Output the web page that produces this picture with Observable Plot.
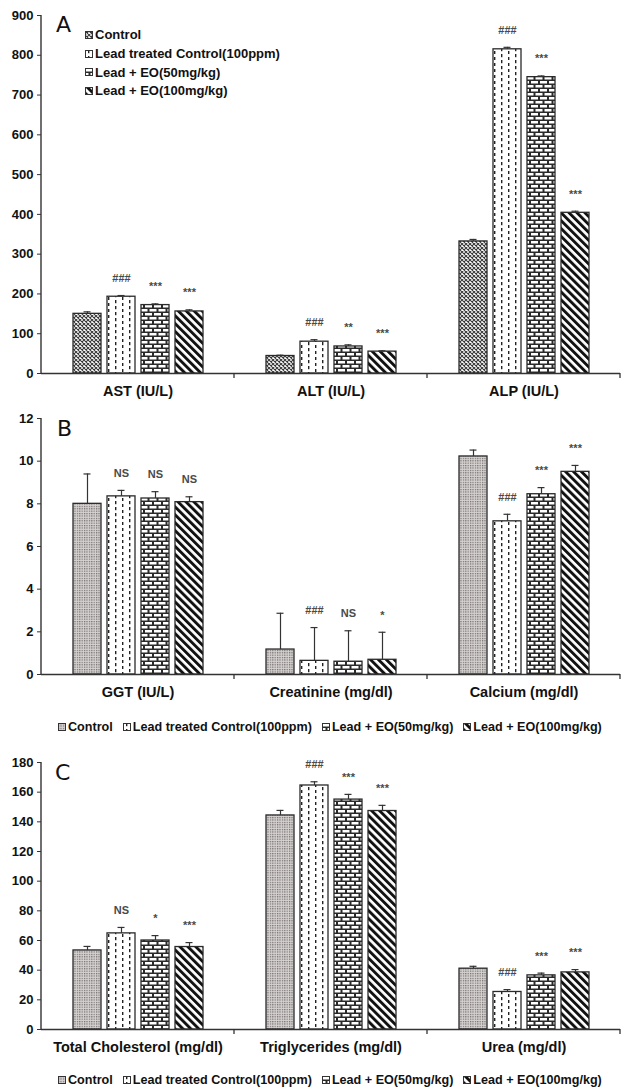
<!DOCTYPE html>
<html><head><meta charset="utf-8">
<script src="https://cdn.jsdelivr.net/npm/d3@7"></script>
<script src="https://cdn.jsdelivr.net/npm/@observablehq/plot@0.6"></script>
<style>
body{margin:0;background:#fff;width:621px;height:1088px;position:relative;overflow:hidden;font-family:"Liberation Sans",Arial,sans-serif;color:#111;}
.panel{position:absolute;left:0;}
.legv{position:absolute;font-weight:bold;font-size:13px;}
.legv .item{display:flex;align-items:center;height:18.7px;white-space:nowrap;}
.legh{position:absolute;display:flex;gap:10px;font-weight:bold;font-size:12.6px;white-space:nowrap;}
.legh .item{display:flex;align-items:center;}
.sw{margin-right:2px;}
</style></head>
<body>
<svg width="0" height="0" style="position:absolute"><defs>
  <pattern id="pCross" width="4" height="4" patternUnits="userSpaceOnUse">
    <rect width="4" height="4" fill="#fff"/>
    <path d="M0,0L4,4M4,0L0,4" stroke="#3a3a3a" stroke-width="1.1"/>
  </pattern>
  <pattern id="pDots" width="2.4" height="2.4" patternUnits="userSpaceOnUse">
    <rect width="2.4" height="2.4" fill="#d6d2d2"/>
    <rect width="1.2" height="1.2" fill="#6f6868"/>
  </pattern>
  <pattern id="pDash" width="14" height="6" patternUnits="userSpaceOnUse">
    <rect width="14" height="6" fill="#fff"/>
    <rect x="3" y="0" width="1.4" height="3.2" fill="#222"/>
    <rect x="10" y="3" width="1.4" height="3.2" fill="#222"/>
  </pattern>
  <pattern id="pBrick" width="9" height="8" patternUnits="userSpaceOnUse">
    <rect width="9" height="8" fill="#2a2a2a"/>
    <rect x="1" y="1" width="7" height="2.5" fill="#fff"/>
    <rect x="-3.5" y="5" width="7" height="2.5" fill="#fff"/>
    <rect x="5.5" y="5" width="7" height="2.5" fill="#fff"/>
  </pattern>
  <pattern id="pDiag" width="5.6" height="5.6" patternUnits="userSpaceOnUse" patternTransform="rotate(-45)">
    <rect width="5.6" height="5.6" fill="#fff"/>
    <rect width="2.9" height="5.6" fill="#111"/>
  </pattern>
</defs></svg>

<div id="A" class="panel" style="top:0"></div>
<div id="B" class="panel" style="top:405px"></div>
<div id="C" class="panel" style="top:745px"></div>
<div id="legA" class="legv" style="left:85px;top:25.5px"></div>
<div id="legB" class="legh" style="left:58px;top:720px"></div>
<div id="legC" class="legh" style="left:58px;top:1073px"></div>
<svg id="letters" width="621" height="1088" style="position:absolute;left:0;top:0;pointer-events:none"></svg>

<script>
// ---- data ----
const series = ["Control", "Lead treated Control(100ppm)", "Lead + EO(50mg/kg)", "Lead + EO(100mg/kg)"];

const catsA = ["AST (IU/L)", "ALT (IU/L)", "ALP (IU/L)"];
const valuesA = [[150, 193, 172, 156], [44, 80, 68, 55], [332, 815, 745, 404]];
const errorsA = [[5, 3, 3, 4], [2, 5, 4, 2], [5, 5, 3, 4]];
const signifA = [["", "###", "***", "***"], ["", "###", "**", "***"], ["", "###", "***", "***"]];
const ticksA = [0, 100, 200, 300, 400, 500, 600, 700, 800, 900];

const catsB = ["GGT (IU/L)", "Creatinine (mg/dl)", "Calcium (mg/dl)"];
const valuesB = [[8.0, 8.35, 8.25, 8.08], [1.17, 0.64, 0.6, 0.69], [10.22, 7.18, 8.45, 9.5]];
const errorsB = [[1.4, 0.28, 0.32, 0.25], [1.7, 1.56, 1.45, 1.29], [0.3, 0.33, 0.31, 0.3]];
const signifB = [["", "NS", "NS", "NS"], ["", "###", "NS", "*"], ["", "###", "***", "***"]];
const ticksB = [0, 2, 4, 6, 8, 10, 12];

const catsC = ["Total Cholesterol (mg/dl)", "Triglycerides (mg/dl)", "Urea (mg/dl)"];
const valuesC = [[53.3, 64.8, 60, 55.6], [144.3, 164.5, 155, 147.3], [41, 25.3, 36.5, 38.5]];
const errorsC = [[2.7, 4, 3.3, 3], [3.4, 2.5, 3.5, 3.8], [1.6, 1.6, 1.5, 1.9]];
const signifC = [["", "NS", "*", "***"], ["", "###", "***", "***"], ["", "###", "***", "***"]];
const ticksC = [0, 20, 40, 60, 80, 100, 120, 140, 160, 180];

const FONT = "Liberation Sans, Arial, sans-serif";

function makePanel(el, cats, vals, errs, sig, ticks, height, mt, mb, ctrlFill) {
  const data = [];
  cats.forEach((c, i) => series.forEach((s, j) =>
    data.push({cat: c, series: s, j, value: vals[i][j], err: errs[i][j], sig: sig[i][j]})));
  const fills = [ctrlFill, "url(#pDash)", "url(#pBrick)", "url(#pDiag)"];
  const yMax = ticks[ticks.length - 1];
  const chart = Plot.plot({
    width: 621, height, marginLeft: 41, marginRight: 1, marginTop: mt, marginBottom: mb,
    fx: {domain: cats, padding: 0, label: null},
    x: {domain: series, paddingInner: 0.18, paddingOuter: 0.86, axis: null},
    y: {domain: [0, yMax], label: null},
    style: {fontFamily: FONT, color: "#111", overflow: "visible", background: "transparent"},
    marks: [
      ...series.map((s, j) => Plot.barY(data.filter(d => d.j === j), {
        fx: "cat", x: "series", y: "value", fill: fills[j], stroke: "#2a2a2a", strokeWidth: 1.3
      })),
      Plot.ruleX(data, {fx: "cat", x: "series", y1: "value", y2: d => d.value + d.err, stroke: "#333", strokeWidth: 1.2}),
      Plot.tickY(data, {fx: "cat", x: "series", y: d => d.value + d.err, insetLeft: 10.5, insetRight: 10.5, stroke: "#333", strokeWidth: 1.2}),
      Plot.text(data.filter(d => d.sig), {
        fx: "cat", x: "series", y: d => d.value + d.err, text: "sig", dy: -13.5, lineAnchor: "bottom",
        fontSize: 11, fontWeight: "bold", fill: "#4a4a4a"
      }),
      Plot.ruleY([0], {stroke: "#333", strokeWidth: 1.3}),
      Plot.axisY({ticks, tickSize: 4, tickPadding: 4, fontSize: 13, fontWeight: "bold", label: null, stroke: "#333", tickFormat: d => d}),
      Plot.axisFx({anchor: "bottom", tickSize: 0, tickPadding: 12, fontSize: 14.5, fontWeight: "bold", label: null})
    ]
  });
  const y = chart.scale("y"), fx = chart.scale("fx");
  const svg = d3.select(chart);
  const y0 = y.apply(0), yTop = y.apply(yMax);
  svg.append("line").attr("x1", 41).attr("x2", 41).attr("y1", y0 + 0.6).attr("y2", yTop)
    .attr("stroke", "#333").attr("stroke-width", 1.4);
  cats.forEach(c => {
    const xb = Math.min(fx.apply(c) + fx.bandwidth, 620);
    svg.append("line").attr("x1", xb).attr("x2", xb).attr("y1", y0).attr("y2", y0 + 5)
      .attr("stroke", "#333").attr("stroke-width", 1.3);
  });
  document.getElementById(el).appendChild(chart);
}

makePanel("A", catsA, valuesA, errorsA, signifA, ticksA, 405, 15, 32, "url(#pCross)");
makePanel("B", catsB, valuesB, errorsB, signifB, ticksB, 301, 13, 32, "url(#pDots)");
makePanel("C", catsC, valuesC, errorsC, signifC, ticksC, 316, 17, 32, "url(#pDots)");

function swatch(fill, size) {
  return `<svg class="sw" width="${size + 1}" height="${size + 1}"><rect x="0.5" y="0.5" width="${size}" height="${size}" fill="${fill}" stroke="#333" stroke-width="1"/></svg>`;
}
function legend(id, ctrlFill, size) {
  const fills = [ctrlFill, "url(#pDash)", "url(#pBrick)", "url(#pDiag)"];
  document.getElementById(id).innerHTML = series.map((s, j) =>
    `<div class="item">${swatch(fills[j], size)}<span>${s}</span></div>`).join("");
}
legend("legA", "url(#pCross)", 7);
legend("legB", "url(#pDots)", 7);
legend("legC", "url(#pDots)", 7);

const letters = d3.select("#letters");
[["A", 56, 32], ["B", 57, 436], ["C", 55, 780]].forEach(([t, x, yb]) =>
  letters.append("text").attr("x", x).attr("y", yb).attr("font-family", "DejaVu Sans, sans-serif")
    .attr("font-size", 22).attr("fill", "#111").text(t));
</script>
</body></html>
